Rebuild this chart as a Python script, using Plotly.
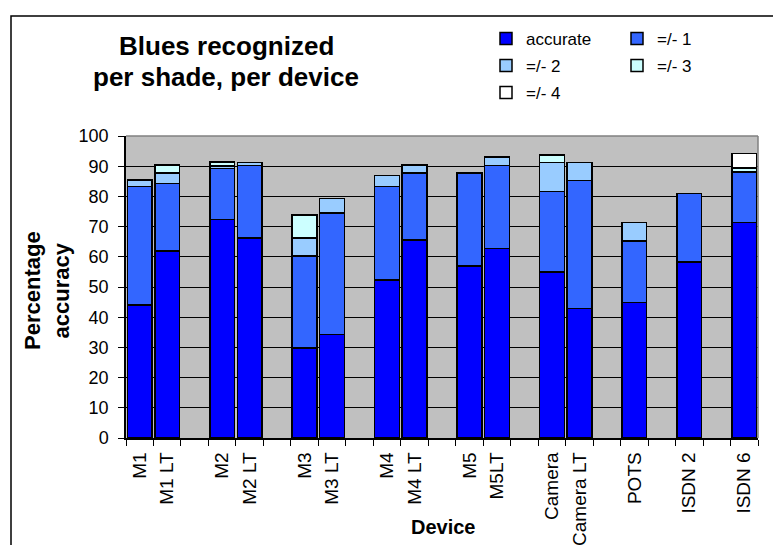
import plotly.graph_objects as go

# device slots, blank strings keep the gaps between device groups
devices = ["M1", "M1 LT", " ", "M2", "M2 LT", "  ", "M3", "M3 LT", "   ",
           "M4", "M4 LT", "    ", "M5", "M5LT", "     ", "Camera", "Camera LT",
           "      ", "POTS", "       ", "ISDN 2", "        ", "ISDN 6"]

accurate = [44.0, 62.0, None, 72.4, 66.3, None, 29.8, 34.3, None, 52.3, 65.5, None,
            56.9, 62.8, None, 54.9, 42.8, None, 44.8, None, 58.2, None, 71.4]
within_1 = [39.3, 22.3, None, 16.8, 23.9, None, 30.4, 40.2, None, 31.0, 22.3, None,
            30.9, 27.5, None, 26.8, 42.5, None, 20.4, None, 22.7, None, 16.7]
within_2 = [2.1, 3.5, None, 0.9, 1.1, None, 6.0, 4.8, None, 3.6, 2.6, None,
            0, 2.7, None, 9.5, 5.9, None, 6.1, None, 0, None, 0]
within_3 = [0, 2.6, None, 1.3, 0, None, 7.6, 0, None, 0, 0, None,
            0, 0, None, 2.5, 0, None, 0, None, 0, None, 1.3]
within_4 = [0, 0, None, 0, 0, None, 0, 0, None, 0, 0, None,
            0, 0, None, 0, 0, None, 0, None, 0, None, 4.8]

series = [
    ("accurate", accurate, "#0000FF", "legend"),
    ("=/- 1", within_1, "#3366FF", "legend"),
    ("=/- 2", within_2, "#99CCFF", "legend2"),
    ("=/- 3", within_3, "#CCFFFF", "legend2"),
    ("=/- 4", within_4, "#FFFFFF", "legend3"),
]

# page body has an 8px margin, so the figure is 8px smaller and positions shifted
OFF = 8
W, H = 781 - OFF, 545 - OFF
L, R, T, B = 118, 23, 128, 107
PW, PH = W - L - R, H - T - B
FONT = "Liberation Sans, Arial, sans-serif"


def px(x):
    # page pixel -> paper x
    return (x - OFF - L) / PW


def py(y):
    # page pixel -> paper y
    return (H - B - (y - OFF)) / PH


fig = go.Figure()
for name, vals, color, leg in series:
    fig.add_trace(go.Bar(
        name=name, x=devices, y=vals, legend=leg,
        marker=dict(color=color, line=dict(color="black", width=1.5)),
    ))

legend_common = dict(orientation="h", xanchor="left", yanchor="middle",
                     entrywidth=86, entrywidthmode="pixels", traceorder="normal",
                     bgcolor="rgba(0,0,0,0)", font=dict(family=FONT, size=17, color="black"))

fig.update_layout(
    width=W, height=H,
    margin=dict(l=L, r=R, t=T, b=B, autoexpand=False),
    barmode="stack", bargap=0.1,
    paper_bgcolor="white", plot_bgcolor="#C0C0C0",
    font=dict(family=FONT, color="black"),
    showlegend=True,
    legend=dict(x=px(486), y=py(39), **legend_common),
    legend2=dict(x=px(486), y=py(66), **legend_common),
    legend3=dict(x=px(486), y=py(93), **legend_common),
    xaxis=dict(type="category", categoryorder="array", categoryarray=devices,
               tickson="boundaries", ticks="outside", ticklen=6, tickcolor="black",
               showline=True, linecolor="black", linewidth=1.5, showgrid=False,
               tickangle=-90, tickfont=dict(size=19), automargin=False,
               ticklabelstandoff=5),
    yaxis=dict(range=[0, 100], dtick=10, ticks="outside", ticklen=6, tickcolor="black",
               showline=True, linecolor="black", linewidth=1.5,
               showgrid=True, gridcolor="black", gridwidth=1, zeroline=False,
               tickfont=dict(size=18), automargin=False, ticklabelstandoff=6),
    shapes=[
        # grey plot-area border on top and right
        dict(type="line", xref="paper", yref="paper", x0=0, x1=1, y0=1, y1=1,
             line=dict(color="#808080", width=1.5), layer="above"),
        dict(type="line", xref="paper", yref="paper", x0=1, x1=1, y0=0, y1=1,
             line=dict(color="#808080", width=1.5), layer="above"),
        # outer chart frame, runs past the right and bottom edges
        dict(type="rect", xref="paper", yref="paper", x0=px(11), x1=px(800),
             y0=py(570), y1=py(16), line=dict(color="black", width=1.5)),
    ],
    annotations=[
        dict(text="<b>Blues recognized</b>", x=px(226), y=py(46), xref="paper", yref="paper",
             showarrow=False, xanchor="center", yanchor="middle", font=dict(size=26)),
        dict(text="<b>per shade, per device</b>", x=px(226), y=py(77), xref="paper", yref="paper",
             showarrow=False, xanchor="center", yanchor="middle", font=dict(size=26)),
        dict(text="<b>Device</b>", x=px(443), y=py(527), xref="paper", yref="paper",
             showarrow=False, xanchor="center", yanchor="middle", font=dict(size=20)),
        dict(text="<b>Percentage<br>accuracy</b>", x=px(47), y=py(291), xref="paper", yref="paper",
             showarrow=False, xanchor="center", yanchor="middle", textangle=-90,
             font=dict(size=22)),
    ],
)

fig.write_html("out.html")
